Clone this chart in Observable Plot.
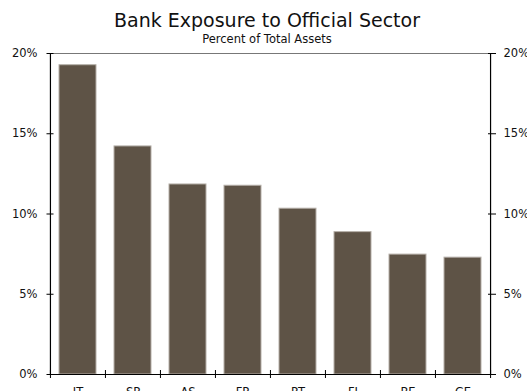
<!DOCTYPE html>
<html>
<head>
<meta charset="utf-8">
<script src="https://cdn.jsdelivr.net/npm/d3@7"></script>
<script src="https://cdn.jsdelivr.net/npm/@observablehq/plot@0.6"></script>
<style>
  html, body { margin: 0; padding: 0; background: #fff; }
  #wrap { width: 527px; height: 391px; overflow: hidden; font-family: "DejaVu Sans", sans-serif; color: #111; }
  #head { position: relative; height: 46px; }
  #title { position: absolute; left: 7px; right: 0; top: 9px; text-align: center; font-size: 19px; line-height: 22px; white-space: nowrap; }
  #subtitle { position: absolute; left: 7px; right: 0; top: 31.7px; text-align: center; font-size: 11.5px; line-height: 14px; white-space: nowrap; }
</style>
</head>
<body>
<div id="wrap">
  <div id="head">
    <div id="title">Bank Exposure to Official Sector</div>
    <div id="subtitle">Percent of Total Assets</div>
  </div>
  <div id="chart"></div>
</div>
<script>
const categories = ["IT", "SP", "AS", "FR", "PT", "FI", "BE", "GE"];
const values = [19.27, 14.21, 11.84, 11.76, 10.33, 8.87, 7.47, 7.28];
const yTicks = [0, 5, 10, 15, 20];

const data = categories.map((c, i) => ({cat: c, value: values[i]}));

const W = 527, H = 345;
const mL = 50, mR = 36, mT = 7, mB = 17;
const step = (W - mL - mR) / categories.length;
const fontSize = 11.5;
const last = categories[categories.length - 1];

const chart = Plot.plot({
  width: W,
  height: H,
  marginLeft: mL,
  marginRight: mR,
  marginTop: mT,
  marginBottom: mB,
  style: {fontFamily: "DejaVu Sans, sans-serif", fontSize: fontSize + "px", color: "#111", background: "#fff", overflow: "visible"},
  x: {domain: categories, paddingInner: 0.32, paddingOuter: 0.16, axis: null, label: null},
  y: {domain: [0, 20], axis: null, label: null},
  marks: [
    Plot.barY(data, {x: "cat", y: "value", fill: "#5e5346", stroke: "#b5afa8", strokeWidth: 1}),
    // top frame (grey)
    Plot.ruleY([20], {stroke: "#777", strokeWidth: 1}),
    // bottom axis line
    Plot.ruleY([0], {stroke: "#000", strokeWidth: 1.2}),
    // left and right axis lines
    Plot.ruleX([categories[0]], {x: d => d, dx: -step / 2, y1: 0, y2: 20, stroke: "#000", strokeWidth: 1.2}),
    Plot.ruleX([last], {x: d => d, dx: step / 2, y1: 0, y2: 20, stroke: "#000", strokeWidth: 1.2}),
    // x boundary ticks (crossing the axis line)
    Plot.axisX(categories, {anchor: "bottom", tickSize: 8, dy: -4, dx: -step / 2, tickFormat: () => "", label: null, stroke: "#000"}),
    Plot.axisX([last], {anchor: "bottom", tickSize: 8, dy: -4, dx: step / 2, tickFormat: () => "", label: null, stroke: "#000"}),
    // x labels
    Plot.axisX({anchor: "bottom", tickSize: 0, tickPadding: 13, fontSize: fontSize, fill: "#111", label: null}),
    // left y axis
    Plot.axisY(yTicks, {anchor: "left", tickSize: 7, dx: 3.5, tickPadding: 9.5, tickFormat: d => d + "%", fontSize: fontSize, fill: "#111", stroke: "#000", label: null}),
    // right y axis
    Plot.axisY(yTicks, {anchor: "right", tickSize: 8, dx: -4, tickPadding: 8, tickFormat: d => d + "%", fontSize: fontSize, fill: "#111", stroke: "#000", label: null})
  ]
});
document.getElementById("chart").appendChild(chart);
</script>
</body>
</html>
